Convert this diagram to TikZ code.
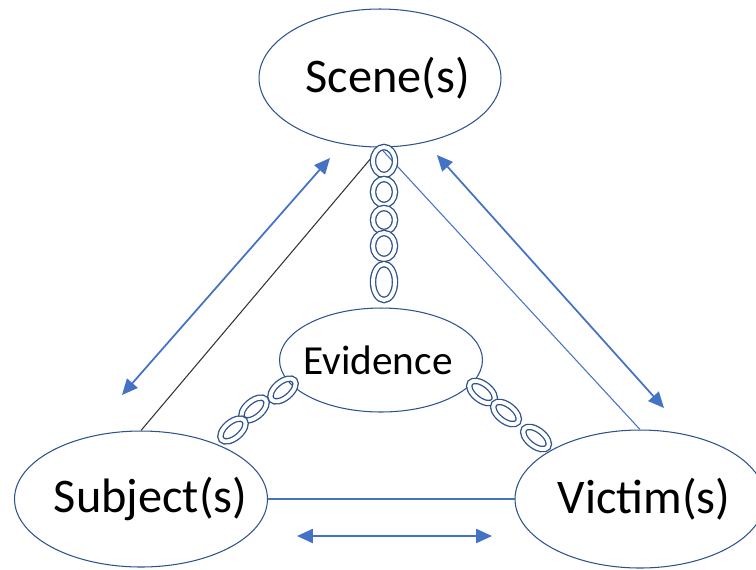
\documentclass[tikz,border=0pt]{standalone}
\usepackage{fontspec}
\setmainfont{Carlito}
\usepackage{xcolor}
\usepackage{tikz}
\usetikzlibrary{arrows.meta,shapes.geometric}

\definecolor{rimblue}{HTML}{2F528F}
\definecolor{arrowblue}{HTML}{4472C4}

\begin{document}
\begin{tikzpicture}[x=0.02cm,y=-0.02cm,
    place/.style={ellipse,draw=rimblue,line width=0.6pt,fill=white,inner sep=0pt,
        font=\fontsize{27.5}{32}\selectfont},
    link/.style={draw=rimblue,line width=0.75pt,double=white,double distance=2.2pt},
    flow/.style={{Triangle[length=9pt,width=8pt]}-{Triangle[length=9pt,width=8pt]},
        line width=1pt,arrowblue}]
    \clip (0,0) rectangle (756,569);

    % Draw the four places
    \node[place,minimum width=4.84cm,minimum height=2.76cm] (scene) at (380,78)
        {\makebox[0pt]{\hspace{9pt}Scene(s)}};
    \node[place,minimum width=4.06cm,minimum height=2.08cm,
        font=\fontsize{23.5}{28}\selectfont] (evidence) at (381,360)
        {\makebox[0pt]{Evidence\hspace{3.4pt}}};
    \node[place,minimum width=5.06cm,minimum height=2.72cm] (subject) at (141,499)
        {\makebox[0pt]{\hspace{11pt}Subject(s)}};
    \node[place,minimum width=5.0cm,minimum height=2.76cm] (victim) at (640,499)
        {\makebox[0pt]{\hspace{4.5pt}Victim(s)}};

    % Links between places
    \draw[line width=0.6pt,black!80] (scene.south) -- (subject.north);
    \draw[line width=0.6pt,arrowblue] (scene.south) -- (victim.north);
    \draw[line width=0.8pt,arrowblue] (subject.east) -- (victim.west);

    % Chain from scene to evidence
    \foreach \y/\r in {161/0.28,192/0.26,220/0.24,246/0.26,282/0.36}
        \draw[link] (384,\y) ellipse (0.22cm and \r cm);

    % Chains from evidence to subject and victim
    \draw[link,rotate around={40:(283,390)}] (283,390) ellipse (0.3cm and 0.16cm);
    \draw[link,rotate around={40:(254,409)}] (254,409) ellipse (0.3cm and 0.16cm);
    \draw[link,rotate around={40:(233,430)}] (233,430) ellipse (0.3cm and 0.16cm);
    \draw[link,rotate around={-38:(482,392)}] (482,392) ellipse (0.3cm and 0.16cm);
    \draw[link,rotate around={-38:(506,413)}] (506,413) ellipse (0.3cm and 0.16cm);
    \draw[link,rotate around={-38:(536,438)}] (536,438) ellipse (0.3cm and 0.16cm);

    % Draw the two-way arrows
    \coordinate (sl) at (122,395);
    \coordinate (sr) at (330,158);
    \coordinate (vl) at (437,155);
    \coordinate (vr) at (664,408);
    \coordinate (bl) at (297,536);
    \coordinate (br) at (492,536);
    \draw[flow] (sl) -- (sr);
    \draw[flow] (vl) -- (vr);
    \draw[flow] (bl) -- (br);
\end{tikzpicture}
\end{document}
